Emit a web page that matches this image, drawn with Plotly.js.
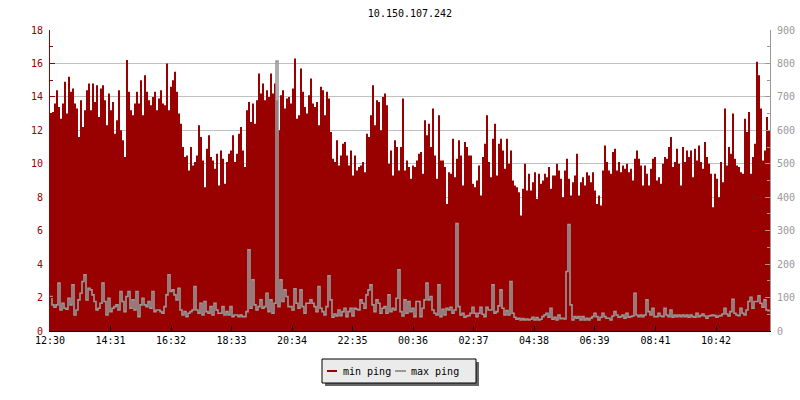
<!DOCTYPE html>
<html><head><meta charset="utf-8">
<script src="https://cdn.plot.ly/plotly-3.0.1.min.js"></script>
<style>html,body{margin:0;padding:0;background:#fff}#chart{width:800px;height:400px}</style>
</head><body><div id="chart"></div>
<script>
const chartTitle = "10.150.107.242";
const startTime = "2024-01-01 12:30";
const endTime = "2024-01-02 12:30";
const stepMinutes = 4;

const seriesNames = ["min ping", "max ping"];

// min ping (left axis, ms) — one value per 4 minutes
const minPing = [
13.0,13.1,13.6,14.4,13.4,12.7,13.6,14.9,13.0,15.2,
14.3,14.5,13.6,13.3,11.6,13.8,12.2,13.2,14.4,14.8,
13.2,14.8,13.7,14.7,12.8,14.5,14.7,13.8,12.3,14.2,
13.2,13.7,11.8,12.6,14.4,12.0,11.4,10.4,16.2,14.3,
13.2,12.9,13.6,14.3,13.6,15.0,12.9,15.3,14.3,13.8,
13.5,14.0,14.3,13.2,13.9,14.4,13.6,13.5,16.0,13.2,
14.6,15.0,15.5,14.3,13.0,12.4,11.0,10.4,10.5,9.6,
11.0,9.9,10.1,10.5,12.3,11.6,10.2,8.6,10.9,11.7,
10.4,10.2,9.7,10.6,8.7,10.8,10.3,8.8,10.1,10.6,
10.8,11.7,10.1,10.6,11.8,12.2,10.8,9.8,13.2,13.7,
12.5,13.6,12.4,13.8,15.4,14.2,14.8,13.8,14.4,14.0,
15.4,14.2,14.8,13.8,12.0,14.1,14.4,13.3,13.9,14.0,
13.6,14.5,16.3,12.7,12.9,15.7,14.3,13.4,13.0,14.1,
15.1,13.6,13.4,13.7,12.3,14.6,14.4,12.9,14.3,13.9,
11.9,10.3,10.1,11.4,9.9,10.5,11.2,11.3,10.5,9.9,
10.8,9.3,10.5,9.6,9.8,9.9,10.1,9.5,11.8,11.6,
12.9,14.7,12.3,13.8,13.7,12.0,14.0,14.2,13.5,10.0,
10.8,9.3,11.4,11.0,9.6,11.0,13.9,9.6,10.2,9.8,
9.1,9.9,9.8,10.2,10.6,10.7,9.4,12.6,11.7,12.4,
11.0,13.3,10.5,9.1,12.9,10.2,10.2,9.8,7.6,9.5,
9.4,11.5,9.2,10.3,11.4,10.5,8.7,11.3,11.0,10.5,
10.5,8.8,8.6,9.0,9.9,8.1,10.4,11.2,12.9,10.1,
9.2,11.5,12.4,9.3,11.2,11.5,10.8,9.7,11.5,10.0,
10.8,9.0,8.7,8.6,8.3,6.9,8.5,10.0,8.4,9.4,
8.4,8.9,9.5,7.9,9.4,8.8,9.0,9.4,9.2,9.8,
8.5,9.3,9.3,10.0,9.6,9.1,8.0,9.6,10.3,9.1,
8.1,8.9,9.3,10.6,8.1,8.9,9.2,8.7,9.5,9.3,
8.9,9.5,8.4,7.6,8.1,7.5,9.6,11.1,10.1,9.6,
9.4,10.7,10.9,9.6,10.1,9.5,9.9,9.7,10.0,9.5,
9.7,9.0,10.3,10.8,10.3,9.9,8.7,9.9,9.4,8.7,
9.7,10.3,10.4,9.0,9.2,8.8,10.0,10.4,10.3,11.0,
11.6,9.8,10.1,10.9,10.0,8.7,11.0,10.1,10.8,10.4,
10.8,9.2,10.9,10.2,11.1,10.1,9.7,11.3,10.4,10.0,
9.4,7.4,9.4,9.1,8.0,10.1,8.9,13.3,9.9,11.0,
10.6,13.0,10.3,9.9,9.8,9.5,9.4,12.7,11.9,13.1,
9.4,10.4,11.2,16.1,15.3,13.3,10.2,10.8,12.8,12.0
];

// max ping (right axis, ms) — one value per 4 minutes
const maxPing = [
103,78,71,78,143,63,83,68,65,98,
78,138,48,63,93,113,148,168,93,128,
123,108,88,63,68,83,143,88,48,98,
58,68,73,78,63,118,88,58,103,118,
68,93,63,118,43,78,98,78,73,88,
68,118,58,63,63,58,53,73,108,168,
118,123,108,93,128,63,48,58,43,53,
58,63,133,63,53,83,48,88,58,53,
73,48,83,63,53,53,73,48,58,48,
73,43,48,48,43,48,43,43,58,243,
68,153,78,63,73,93,68,73,113,58,
93,53,83,807,73,153,88,123,103,73,
73,63,126,83,68,123,73,53,83,83,
93,83,73,58,133,68,58,48,73,165,
93,41,51,45,63,46,58,68,43,58,
68,45,68,65,63,93,83,68,108,123,
138,78,58,93,83,53,68,73,53,108,
58,68,63,98,183,58,45,93,53,88,
58,68,43,88,88,43,68,93,143,93,
103,63,53,48,138,43,65,48,68,63,
71,53,63,321,73,48,53,41,45,46,
53,71,53,43,53,71,50,43,71,63,
63,138,53,58,75,123,68,48,61,48,
148,53,41,35,38,33,37,33,36,33,
35,41,33,40,33,35,43,48,53,41,
68,35,41,33,48,37,38,36,178,318,
78,33,43,38,43,33,43,33,38,33,
38,43,53,43,33,41,53,43,38,38,
33,45,58,48,41,43,48,38,53,41,
43,45,113,48,43,48,43,48,93,58,
48,68,43,43,53,45,43,68,48,43,
63,41,48,43,48,43,48,43,48,41,
48,43,41,53,43,46,51,45,38,45,
46,48,46,41,45,46,51,68,51,45,
58,95,53,48,46,68,53,48,63,88,
101,68,88,88,105,83,71,93,63,61
];

const tickTimes = [
"2024-01-01 12:30","2024-01-01 14:31","2024-01-01 16:32","2024-01-01 18:33",
"2024-01-01 20:34","2024-01-01 22:35","2024-01-02 00:36","2024-01-02 02:37",
"2024-01-02 04:38","2024-01-02 06:39","2024-01-02 08:41","2024-01-02 10:42"
];
const tickLabels = ["12:30","14:31","16:32","18:33","20:34","22:35","00:36","02:37","04:38","06:39","08:41","10:42"];

const RED = "#990000", GREY = "#999999";

function timeAt(i) {
  const t0 = Date.UTC(2024, 0, 1, 12, 30);
  return new Date(t0 + i * stepMinutes * 60000).toISOString().slice(0, 16).replace("T", " ");
}
function withEnd(vals) {
  const xs = vals.map((_, i) => timeAt(i));
  xs.push(endTime);
  return { x: xs, y: vals.concat([vals[vals.length - 1]]) };
}

const a = withEnd(minPing), b = withEnd(maxPing);

const traces = [
  { type: "scatter", mode: "lines", name: seriesNames[0], x: a.x, y: a.y,
    line: { shape: "hv", color: RED, width: 0 }, fill: "tozeroy", fillcolor: RED,
    hoverinfo: "skip" },
  { type: "scatter", mode: "lines", name: seriesNames[1], x: b.x, y: b.y, yaxis: "y2",
    line: { shape: "hv", color: GREY, width: 1.6 }, hoverinfo: "skip" }
];

// plot area: x 50..770, y 30..331 (px)
const px = v => (v - 50) / 720;
const py = v => (331 - v) / 301;

const layout = {
  width: 800, height: 400,
  margin: { l: 50, r: 30, t: 30, b: 69, pad: 0 },
  paper_bgcolor: "#ffffff", plot_bgcolor: "#ffffff",
  font: { family: "DejaVu Sans Mono, monospace", size: 10, color: "#000" },
  title: { text: chartTitle, x: 0.5, xref: "paper", xanchor: "center",
           y: 1 - 13 / 400, yref: "container", yanchor: "middle",
           font: { size: 10, color: "#000", family: "DejaVu Sans Mono, monospace" } },
  showlegend: false,
  xaxis: { type: "date", range: [startTime, endTime], tickmode: "array",
           tickvals: tickTimes, ticktext: tickLabels, ticks: "inside", ticklen: 5,
           tickcolor: "#000", showline: true, linecolor: "#000", linewidth: 1,
           showgrid: false, zeroline: false, tickfont: { color: "#000", size: 10 } },
  yaxis: { range: [0, 18], tick0: 0, dtick: 2, ticks: "inside", ticklen: 5, tickcolor: RED,
           showline: true, linecolor: RED, linewidth: 1, showgrid: true, gridcolor: "#c0c0c0",
           zeroline: false, tickfont: { color: RED, size: 10 }, ticklabelstandoff: 4,
           minor: { dtick: 1, ticks: "inside", ticklen: 3, tickcolor: RED, showgrid: false } },
  yaxis2: { overlaying: "y", side: "right", range: [0, 900], tick0: 0, dtick: 100,
            ticks: "inside", ticklen: 5, tickcolor: GREY, showline: true, linecolor: GREY,
            linewidth: 1, showgrid: false, zeroline: false, tickfont: { color: GREY, size: 10 },
            ticklabelstandoff: 4,
            minor: { dtick: 50, ticks: "inside", ticklen: 3, tickcolor: GREY, showgrid: false } },
  shapes: [
    { type: "rect", xref: "paper", yref: "paper", x0: px(325), x1: px(479), y0: py(362), y1: py(386),
      fillcolor: "#666666", line: { width: 0 }, layer: "above" },
    { type: "rect", xref: "paper", yref: "paper", x0: px(322), x1: px(476), y0: py(359), y1: py(383),
      fillcolor: "#ebebeb", line: { color: "#000", width: 1 }, layer: "above" },
    { type: "line", xref: "paper", yref: "paper", x0: px(327), x1: px(337), y0: py(371), y1: py(371),
      line: { color: RED, width: 2 }, layer: "above" },
    { type: "line", xref: "paper", yref: "paper", x0: px(395), x1: px(406), y0: py(371), y1: py(371),
      line: { color: GREY, width: 2 }, layer: "above" }
  ],
  annotations: [
    { text: seriesNames[0], xref: "paper", yref: "paper", x: px(341), y: py(371),
      xanchor: "left", yanchor: "middle", showarrow: false,
      font: { size: 10, color: "#000", family: "DejaVu Sans Mono, monospace" } },
    { text: seriesNames[1], xref: "paper", yref: "paper", x: px(409), y: py(371),
      xanchor: "left", yanchor: "middle", showarrow: false,
      font: { size: 10, color: "#000", family: "DejaVu Sans Mono, monospace" } }
  ]
};

Plotly.newPlot("chart", traces, layout, { staticPlot: true, displayModeBar: false });
</script>
</body></html>
